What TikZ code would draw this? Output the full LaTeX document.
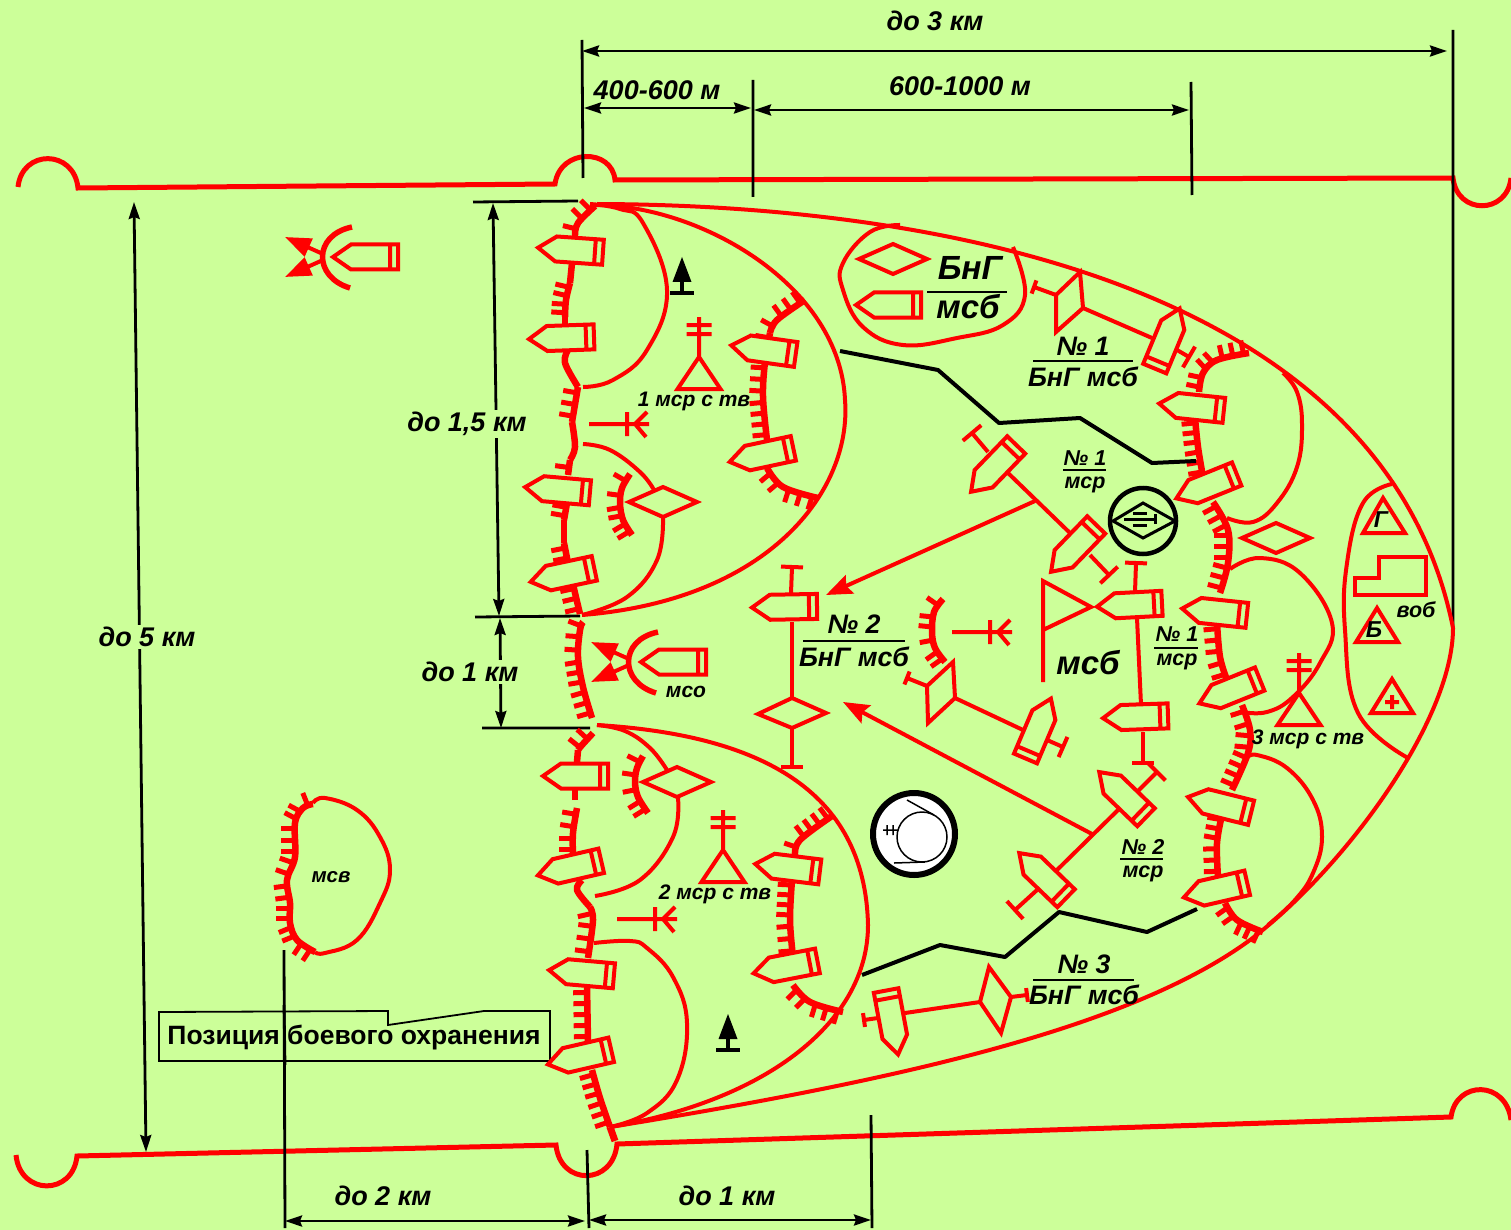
\documentclass[tikz,border=0pt]{standalone}
\usepackage{fontspec}
\setmainfont{Liberation Sans}
\usetikzlibrary{arrows.meta,calc}
\definecolor{bg}{RGB}{204,255,153}
\tikzset{
  x=1pt,y=-1pt,
  sym/.style={draw=red,line width=4pt,line join=miter,miter limit=3},
  curve/.style={draw=red,line width=4pt,line join=round},
  edge/.style={draw=red,line width=5pt},
  dim/.style={draw=black,line width=2.8pt},
  dimarrow/.style={dim,{Stealth[length=17pt,width=11pt,inset=2pt]}-{Stealth[length=17pt,width=11pt,inset=2pt]}},
  blk/.style={draw=black,line width=4pt,line join=round},
  bigarrow/.style={sym,-{Stealth[length=26pt,width=20pt,inset=4pt]}},
  plainline/.style={draw=red,line width=6.5pt,line join=round},
  tickmark/.style={draw=red,line width=5pt},
  fracline/.style={draw=black,line width=2.2pt},
  t/.style={font=\bfseries\itshape\fontsize{#1}{#1}\selectfont,inner sep=0pt,text=black},
  t/.default=27,
  masked/.style={t=27,fill=bg,inner sep=2pt},
}
\newcommand\Veh[3]{\draw[sym,fill=bg,shift={(#1,#2)},rotate=#3] (-33,0)--(-15,-12.5)--(32,-12.5)--(32,12.5)--(-15,12.5)--cycle (24,-12.5)--(24,12.5);}
\newcommand\Dia[2]{\draw[sym,fill=bg,shift={(#1,#2)}] (-34,0)--(0,-15)--(34,0)--(0,15)--cycle;}
\newcommand\StemT[5]{\draw[sym] (#1,#2)--(#3,#4) ($(#3,#4)!#5pt!90:(#1,#2)$)--($(#3,#4)!#5pt!-90:(#1,#2)$);}
\newcommand\Fork[2]{\begin{scope}[shift={(#1,#2)}]\draw[sym] (0,0)--(60,0) (38,-12)--(38,12) (46,0)--(58,-12) (46,0)--(57,13);\end{scope}}
\newcommand\Tree[2]{\begin{scope}[shift={(#1,#2)}]\fill[black] (0,0)--(9.5,25)--(-9.5,25)--cycle;\draw[black,line width=3.5pt] (0,24)--(0,36) (-12,36)--(12,36);\end{scope}}
\newcommand\Mil[2]{\begin{scope}[shift={(#1,#2)}]\draw[sym] (0,0)--(21.5,32)--(-21.5,32)--cycle (0,0)--(0,-40) (-12.5,-32)--(12.5,-32) (-12.5,-23)--(12.5,-23);\end{scope}}
\newcommand\Guard[2]{\begin{scope}[shift={(#1,#2)}]
  \draw[draw=red,line width=5.5pt] (30,-30) .. controls (-9,-22) and (-9,20) .. (28,31);
  \draw[sym,-{Stealth[length=26pt,width=19pt,inset=0pt]}] (1,-3)--(-37,-20);
  \draw[sym,-{Stealth[length=26pt,width=19pt,inset=0pt]}] (1,3)--(-37,20);
\end{scope}}
\newcommand\TickSeg[4]{%
  \pgfmathsetmacro\TL{veclen(#3-#1,#4-#2)}%
  \pgfmathtruncatemacro\TN{max(1,round(\TL/11))}%
  \foreach \ti in {1,...,\TN}{%
    \pgfmathsetmacro\fx{#1+(#3-#1)*(\ti-0.5)/\TN}%
    \pgfmathsetmacro\fy{#2+(#4-#2)*(\ti-0.5)/\TN}%
    \pgfmathsetmacro\tx{\fx+(#4-#2)/\TL*14}%
    \pgfmathsetmacro\ty{\fy-(#3-#1)/\TL*14}%
    \draw[tickmark] (\fx,\fy)--(\tx,\ty);}%
}
\def\TrStep(#1,#2)(#3,#4)#5\TrEnd{%
  \TickSeg{#1}{#2}{#3}{#4}%
  \def\TrRest{#5}%
  \ifx\TrRest\empty\else\TrStep(#3,#4)#5\TrEnd\fi}
\newcommand\Tr[1]{\draw[plainline] plot[smooth,tension=0.6] coordinates {#1};\TrStep#1\TrEnd}
\newcommand\Pl[1]{\draw[plainline] plot[smooth,tension=0.6] coordinates {#1};}
\newcommand\Cv[1]{\draw[curve] plot[smooth,tension=0.7] coordinates {#1};}
\begin{document}
\begin{tikzpicture}
\fill[bg] (0,0) rectangle (1511,1230);
\useasboundingbox (0,0) rectangle (1511,1230);
% boundaries
\draw[edge] (18,187) .. controls (22,149) and (74,149) .. (78,188) -- (555,184) .. controls (560,148) and (612,148) .. (615,180) -- (1453,178) .. controls (1457,215) and (1507,215) .. (1511,178);
\draw[edge] (16,1155) .. controls (20,1196) and (73,1196) .. (77,1156) -- (556,1145) .. controls (560,1186) and (613,1186) .. (617,1144) -- (1451,1117) .. controls (1456,1080) and (1506,1080) .. (1511,1120);
% dimension lines
\draw[dim] (582,40)--(583,178) (753,80)--(753,197) (1191,82)--(1192,195) (1453,30)--(1453,628);
\draw[dim] (473,202)--(578,201) (475,617)--(580,616) (482,728)--(590,728);
\draw[dim] (284,950)--(285,1228) (587,1150)--(589,1228) (871,1115)--(872,1228);
\draw[dimarrow] (582,51)--(1447,51);
\draw[dimarrow] (584,108)--(751,108);
\draw[dimarrow] (754,110)--(1189,110);
\draw[dimarrow] (493,203)--(499,616);
\draw[dimarrow] (500,618)--(501,728);
\draw[dimarrow] (134,202)--(146,1152);
\draw[dimarrow] (285,1221)--(585,1221);
\draw[dimarrow] (589,1220)--(871,1220);
\node[t] (d3) at (935,21) {до 3 км};
\node[t] (d400) at (657,90) {400-600 м};
\node[t] (d600) at (960,86) {600-1000 м};
\node[masked] (d15) at (467,424) {до 1,5 км};
\node[masked] (d1a) at (470,672) {до 1 км};
\node[masked] (d5) at (147,637) {до 5 км};
\node[t] (d2) at (383,1196) {до 2 км};
\node[t] (d1b) at (727,1196) {до 1 км};
% callout
\draw[draw=black,line width=1.8pt] (159,1012)--(388,1011)--(388,1025)--(484,1011)--(550,1011)--(550,1061)--(159,1061)--cycle;
\node[font=\bfseries\fontsize{26.5}{26.5}\selectfont,inner sep=0pt] (cb) at (354,1038) {Позиция боевого охранения};
\draw[dim] (284,1005)--(285,1065);
% outer outline
\draw[curve] (597,204) .. controls (950,205) and (1385,290) .. (1453,628) .. controls (1453,720) and (1345,868) .. (1250,940) .. controls (1130,1028) and (900,1080) .. (610,1127);
% company 1 curves
\draw[curve] (595,205) .. controls (700,205) and (840,285) .. (845,400) .. controls (852,490) and (770,600) .. (582,615);
\Cv{(590,204)(620,209)(643,223)(667,290)(647,350)(613,380)(583,387)}
\Cv{(583,444)(610,450)(640,472)(654,490)}
\Cv{(663,517)(657,560)(627,597)(582,615)}
% company 2 curves
\draw[curve] (597,725) .. controls (760,735) and (865,790) .. (868,925) .. controls (868,1020) and (770,1100) .. (610,1127);
\Cv{(597,725)(625,731)(650,748)(667,770)}
\Cv{(678,798)(673,837)(640,880)(595,896)}
\Cv{(594,943)(630,941)(647,948)(673,977)(687,1023)(677,1080)(647,1113)(610,1127)}
% company 3 curves
\Cv{(1283,373)(1297,392)(1302,425)(1297,467)(1277,503)(1253,522)(1227,518)}
\Cv{(1230,569)(1260,558)(1300,573)(1332,623)(1320,663)(1293,697)(1267,712)(1242,712)}
\Cv{(1247,758)(1257,755)(1287,768)(1313,800)(1322,837)(1313,873)(1295,900)(1268,925)}
% reserve zones
\Cv{(900,225)(870,232)(843,263)(843,290)(863,327)(903,345)(957,338)(1003,325)(1025,295)(1013,247)}
\Cv{(1392,484)(1363,503)(1347,563)(1345,630)(1358,713)(1408,758)}
% trenches company 1 west (bottom to top)
\Tr{(580,614)(575,593)(573,584)}
\Tr{(568,563)(564,543)}
\Pl{(564,543)(564,520)}
\Tr{(564,520)(567,503)}
\Tr{(568,475)(570,460)}
\Pl{(570,460)(575,447)(572,422)}
\Tr{(572,422)(578,387)}
\Pl{(578,387)(565,363)(568,350)}
\Pl{(565,325)(565,317)}
\Tr{(565,317)(566,300)(570,283)}
\Pl{(570,283)(572,263)}
\Pl{(575,240)(575,235)}
\Tr{(575,235)(578,223)(595,206)}
% company 1 east
\Tr{(767,440)(763,397)(765,362)(770,333)}
\Tr{(770,333)(777,320)(805,300)}
\Tr{(818,498)(783,487)(767,468)}
% small arcs
\Tr{(632,535)(623,520)(620,503)(622,488)(630,474)}
\Tr{(648,813)(638,797)(635,782)(637,768)(643,756)}
\Tr{(945,662)(935,648)(932,632)(934,612)(943,599)}
% front of mso
\Tr{(592,718)(583,687)(578,657)(580,630)(583,622)}
% company 2 west
\draw[draw=red,line width=7pt] (615,1141)--(610,1127);
\Tr{(610,1127)(600,1098)(592,1070)}
\Tr{(588,1042)(587,987)}
\Tr{(588,958)(593,920)(590,907)}
\Pl{(590,907)(577,890)(582,880)}
\Tr{(573,855)(573,833)(577,808)}
\Pl{(575,800)(575,790)}
\Pl{(577,762)(578,750)}
\Tr{(578,750)(582,745)(593,733)}
% company 2 east
\Tr{(793,957)(790,920)(792,880)}
\Tr{(795,855)(800,840)(832,816)}
\Tr{(843,1012)(810,1002)(793,985)}
% company 3
\Tr{(1203,477)(1198,447)(1195,418)}
\Tr{(1199,392)(1203,373)(1217,360)(1249,353)}
\Tr{(1220,593)(1228,563)(1228,530)(1213,502)}
\Tr{(1227,680)(1220,657)(1217,623)}
\Tr{(1232,790)(1248,753)(1250,730)(1242,705)}
\Tr{(1218,877)(1217,843)(1222,815)}
\Tr{(1263,932)(1237,920)(1225,903)}
% msv
\Cv{(313,803)(325,798)(357,810)(380,837)(390,870)(380,903)(357,940)(325,953)(315,952)}
\Tr{(315,952)(297,940)(290,923)(290,903)(287,880)(295,857)(295,823)(303,808)(313,804)}
\node[t=20.5] (msv) at (331,877) {мсв};
% vehicles of companies
\Veh{571}{250}{-4} \Veh{562}{338}{2} \Veh{558}{490}{-5} \Veh{563}{575}{12}
\Veh{764}{350}{-8} \Veh{762}{455}{12}
\Veh{576}{776}{0} \Veh{570}{868}{13} \Veh{582}{973}{-5} \Veh{580}{1057}{13}
\Veh{788}{868}{-7} \Veh{786}{967}{11}
\Veh{1192}{407}{-6} \Veh{1207}{486}{22} \Veh{1215}{612}{-6} \Veh{1230}{691}{22} \Veh{1220}{805}{-14} \Veh{1216}{890}{13}
% diamonds
\Dia{663}{502} \Dia{677}{782} \Dia{1276}{538} \Dia{893}{259}
\Veh{889}{305}{0}
% guards
\Guard{628}{662} \Veh{674}{662}{0}
\node[t=21] (mso) at (686,692) {мсо};
\Guard{322}{257} \Veh{366}{257}{0}
% command symbols
\Mil{699}{357} \Mil{723}{850} \Mil{1299}{693}
\node[t=21] (c1) at (694,401) {1 мср с тв};
\node[t=21] (c2) at (715,894) {2 мср с тв};
\node[t=21] (c3) at (1308,739) {3 мср с тв};
\Fork{589}{424} \Fork{617}{919} \Fork{952}{632}
\Tree{682}{257} \Tree{728}{1014}
% BnG msb
\node[t=33.5] (bng) at (970,268) {БнГ};
\draw[fracline] (927,292)--(1007,292);
\node[t=33] (msb0) at (968,307) {мсб};
% No1 BnG
\draw[sym] (1083,308)--(1152,338);
\StemT{1056}{295}{1034}{287}{7}
\draw[sym,fill=bg] (1080,272)--(1056,295)--(1056,332)--(1083,308)--cycle;
\StemT{1177}{350}{1189}{357}{12}
\Veh{1167}{339}{-112.5}
\node[t=26.7] (n1a) at (1083,346) {№ 1};
\draw[fracline] (1033,361)--(1133,361);
\node[t=26.7] (n1b) at (1083,377) {БнГ мсб};
% black lines
\draw[blk] (840,351)--(938,370)--(999,423)--(1080,418)--(1152,463)--(1196,461);
\draw[blk] (862,975)--(940,945)--(1005,957)--(1059,912)--(1147,932)--(1197,909);
% platoon 1
\draw[bigarrow] (1035,501)--(826,595);
\draw[sym] (1008,473)--(1070,533);
\StemT{988}{452}{972}{433}{12}
\StemT{1090}{555}{1109}{575}{12}
\Veh{994}{468}{46} \Veh{1074}{548}{46}
\node[t=21.5] (n1c) at (1085,458) {№ 1};
\draw[fracline] (1063,470)--(1106,470);
\node[t=21.5] (n1d) at (1085,485) {мср};
% command post
\draw[draw=black,line width=4.5pt] (1143,521) circle (33);
\draw[draw=black,line width=3pt,line join=miter] (1113,521)--(1143,503)--(1175,521)--(1143,538)--cycle;
\draw[draw=black,line width=3pt] (1124,519)--(1155,519) (1155,514)--(1155,524) (1133,513)--(1147,513) (1133,525)--(1147,525);
% msb flag
\draw[sym] (1043,682)--(1043,581)--(1091,607)--(1043,630);
\node[t=33] (msb) at (1088,663) {мсб};
% platoon 1 right
\StemT{1135}{592}{1136}{563}{11}
\draw[sym] (1137,618)--(1141,705);
\StemT{1143}{732}{1143}{763}{11}
\Veh{1130}{605}{3} \Veh{1136}{717}{2}
\node[t=21.5] (n1e) at (1177,634) {№ 1};
\draw[fracline] (1154,648)--(1198,648);
\node[t=21.5] (n1f) at (1177,662) {мср};
% platoon 2
\draw[bigarrow] (1092,834)--(843,702);
\draw[sym] (1118,810)--(1057,870);
\StemT{1137}{792}{1157}{772}{12}
\StemT{1037}{890}{1015}{910}{12}
\Veh{1123}{795}{-44} \Veh{1043}{876}{-44}
\node[t=21.5] (n2a) at (1143,847) {№ 2};
\draw[fracline] (1120,859)--(1163,859);
\node[t=21.5] (n2b) at (1143,874) {мср};
% No2 BnG
\StemT{791}{593}{792}{567}{11}
\draw[sym] (792,622)--(792,697);
\StemT{792}{728}{792}{767}{11}
\Veh{785}{607}{1}
\draw[sym,fill=bg] (758,714)--(792,698)--(826,713)--(792,728)--cycle;
\node[t=26.7] (n2c) at (854,624) {№ 2};
\draw[fracline] (803,641)--(905,641);
\node[t=26.7] (n2d) at (854,657) {БнГ мсб};
% middle sign
\draw[sym] (955,698)--(1023,730);
\StemT{927}{686}{907}{678}{7}
\draw[sym,fill=bg] (953,662)--(927,686)--(928,723)--(955,698)--cycle;
\StemT{1047}{740}{1063}{747}{11}
\Veh{1038}{729}{-113}
% No3 BnG
\draw[sym] (980,1002)--(905,1013);
\StemT{1011}{997}{1027}{995}{7}
\draw[sym,fill=bg] (989,967)--(1011,997)--(1001,1033)--(980,1002)--cycle;
\StemT{878}{1018}{864}{1020}{7}
\Veh{892}{1022}{100.6}
\node[t=26.7] (n3a) at (1084,964) {№ 3};
\draw[fracline] (1033,980)--(1134,980);
\node[t=26.7] (n3b) at (1084,995) {БнГ мсб};
% white circle
\draw[draw=black,line width=6pt,fill=white] (914,834) circle (41);
\draw[draw=black,line width=1.5pt] (922,837) circle (25);
\draw[draw=black,line width=1.5pt] (907,800)--(934,815) (894,863)--(925,862) (883,830)--(898,830) (887,825)--(887,835) (893,825)--(893,835);
% rear
\draw[sym] (1383,498)--(1405,533)--(1363,533)--cycle;
\node[t=23] (gamma) at (1381,520) {Г};
\draw[sym] (1355,578)--(1379,578)--(1379,557)--(1426,557)--(1426,595)--(1355,595)--cycle;
\draw[sym] (1377,608)--(1398,642)--(1356,642)--cycle;
\node[t=23] (be) at (1374,630) {Б};
\draw[sym] (1392,679)--(1413,713)--(1371,713)--cycle (1385,702)--(1399,702) (1392,695)--(1392,709);
\node[t=21.5] (vob) at (1416,610) {воб};
\end{tikzpicture}
\end{document}
